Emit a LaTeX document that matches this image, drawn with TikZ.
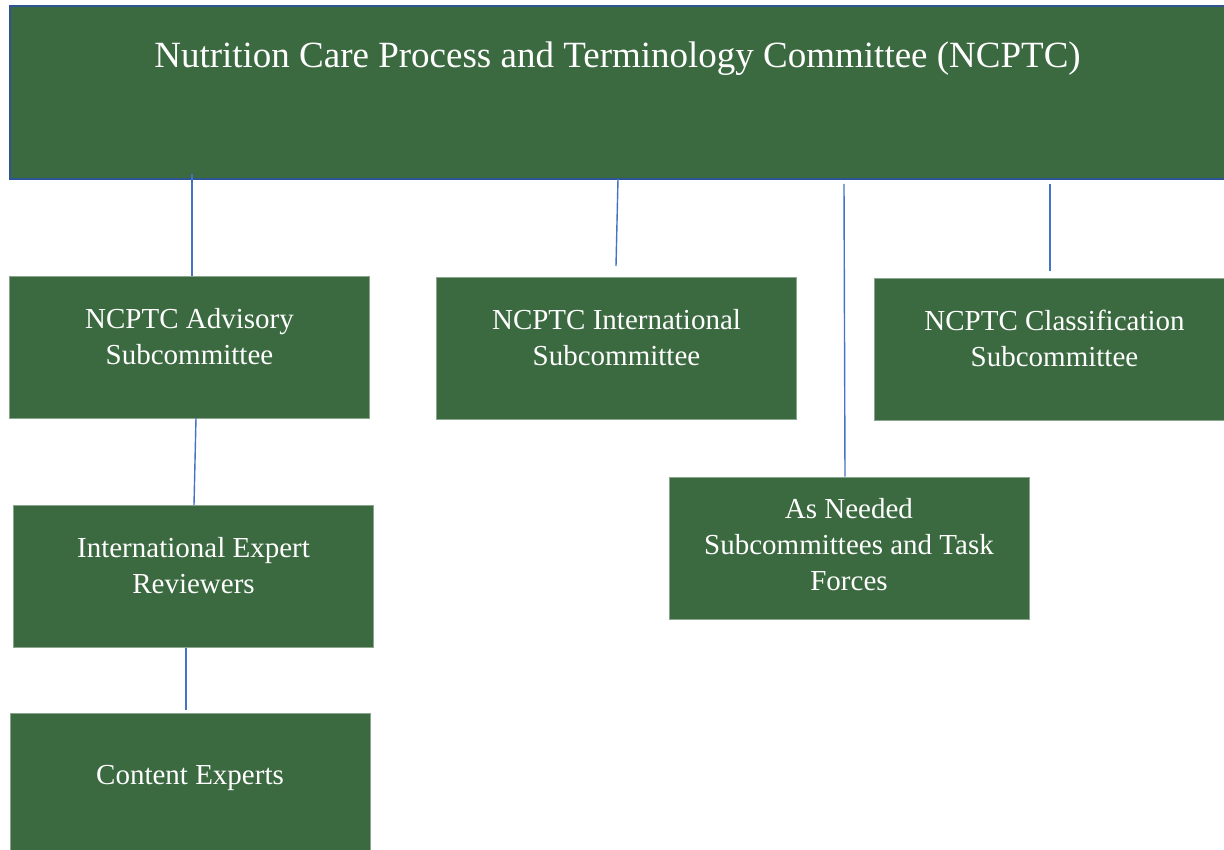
\documentclass[tikz,border=0pt]{standalone}
\usepackage{fontspec}
\setmainfont{Liberation Serif}
\definecolor{boxgreen}{HTML}{3B6940}
\definecolor{boxedge}{HTML}{8AA58E}
\definecolor{topedge}{HTML}{2F5496}
\definecolor{linkblue}{HTML}{4472C4}
\begin{document}
\begin{tikzpicture}[x=1pt,y=-1pt,
  box/.style={rectangle, fill=boxgreen, draw=boxedge, line width=0.6pt, inner sep=0pt},
  sub/.style={box, minimum width=360pt, minimum height=142pt},
  label/.style={text=white, align=center, inner sep=0pt,
    font=\fontsize{29}{36}\selectfont,
    execute at begin node=\strut, execute at end node=\strut},
  link/.style={draw=linkblue, line width=1.4pt}]
\useasboundingbox (0,0) rectangle (1224,850);
\clip (0,0) rectangle (1224,850);

% committee header
\node[box, draw=topedge, line width=2.6pt, minimum width=1220pt, minimum height=173pt]
  (top) at (620,92.5) {};
\node[text=white, inner sep=0pt, anchor=base, font=\fontsize{37}{44}\selectfont]
  (top-t) at (617.5,68) {Nutrition Care Process and Terminology Committee (NCPTC)};

% subcommittee boxes
\node[sub] (adv) at (189.5,347) {};
\node[sub] (intl) at (616.5,348) {};
\node[sub] (cls) at (1054.5,349.5) {};
\node[sub] (need) at (849,548) {};
\node[sub] (rev) at (193.5,576) {};
\node[sub, minimum height=140pt] (cont) at (190,783) {};

% box labels (centre = first baseline - 25.2 + 18 * lines)
\node[label] (adv-t) at (189.5,341.5) {NCPTC Advisory\\Subcommittee};
\node[label] (intl-t) at (616.5,343) {NCPTC International\\Subcommittee};
\node[label] (cls-t) at (1054.5,344) {NCPTC Classification\\Subcommittee};
\node[label] (need-t) at (849,549.5) {As Needed\\Subcommittees and Task\\Forces};
\node[label] (rev-t) at (193.5,571) {International Expert\\Reviewers};
\node[label] (cont-t) at (190,777.5) {Content Experts};

% connector end points
\coordinate (a1) at (192,174);
\coordinate (b1) at (618,179);
\coordinate (b2) at (616,266);
\coordinate (n1) at (844,184);
\coordinate (c1) at (1050,184);
\coordinate (c2) at (1050,271);
\coordinate (r1) at (196,418);
\coordinate (r2) at (194,505);
\coordinate (k1) at (186,648);
\coordinate (k2) at (186,710);

\draw[link] (a1) -- (a1 |- adv.north);
\draw[link] (b1) -- (b2);
\draw[link] (n1) -- (845,0 |- need.north);
\draw[link] (c1) -- (c2);
\draw[link] (r1) -- (r2);
\draw[link] (k1) -- (k2);
\end{tikzpicture}
\end{document}
